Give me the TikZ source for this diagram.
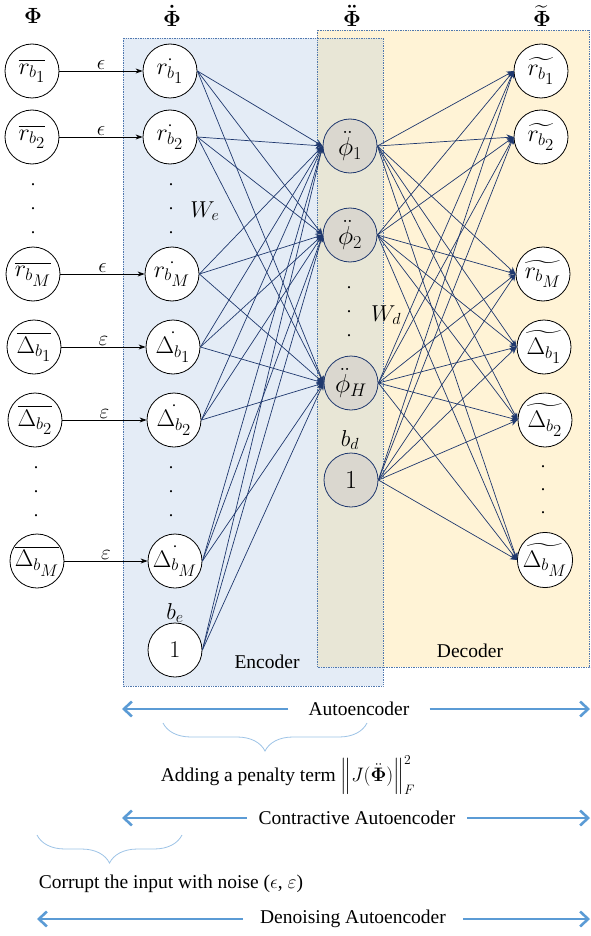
\RequirePackage{fix-cm}
\documentclass[tikz,border=0pt]{standalone}
\usepackage{amsmath,amssymb}
\usepackage{fontspec}
\setmainfont{Liberation Serif}
\usetikzlibrary{arrows.meta,decorations.pathreplacing}

\definecolor{encfill}{RGB}{228,236,246}
\definecolor{decfill}{RGB}{255,243,214}
\definecolor{ovfill}{RGB}{232,230,214}
\definecolor{navy}{RGB}{31,56,110}
\definecolor{boxline}{RGB}{80,120,175}
\definecolor{phifill}{RGB}{218,215,207}
\definecolor{abl}{RGB}{91,155,213}
\definecolor{brc}{RGB}{157,195,230}
\newcommand{\ssb}[1]{{\scriptstyle #1}}

\begin{document}
\begin{tikzpicture}[x=1pt,y=-1pt,
  neuron/.style={circle,draw=black,line width=0.8pt,fill=white,minimum size=54pt,inner sep=0pt,font=\fontsize{24}{26}\selectfont},
  hid/.style={neuron,draw=navy,fill=phifill,font=\fontsize{26}{28}\selectfont},
  conn/.style={navy,line width=0.7pt},
  conntip/.style={conn,-{Stealth[length=7pt,width=6pt]}},
  noise/.style={black,line width=0.8pt,-{Stealth[length=7pt,width=5pt]}},
  hdr/.style={font=\fontsize{22}{24}\selectfont},
  lbl/.style={font=\fontsize{23}{26}\selectfont},
  nlbl/.style={font=\fontsize{21}{24}\selectfont},
  txt/.style={font=\fontsize{19.5}{23}\selectfont},
  dotmark/.style={font=\fontsize{18}{20}\selectfont},
  region/.style={draw=boxline,densely dotted,line width=0.7pt},
  barrow/.style={abl,line width=2.6pt,-{Straight Barb[length=8pt,width=15pt,line width=2.6pt]}},
  brc/.style={draw=brc,line width=0.8pt,decorate,decoration={brace,amplitude=28pt}},
  gap/.style={txt,inner xsep=16pt,inner ysep=2pt}
]
\useasboundingbox (0,0) rectangle (590,936);

% regions
\fill[encfill] (123,38) rectangle (383,686);
\fill[decfill] (317,30) rectangle (589.5,667);
\fill[ovfill] (317,38) rectangle (383,667);
\draw[region] (123,38) rectangle (383,686);
\draw[region] (317,30) rectangle (589.5,667);
\node[txt] (enc) at (267,662) {Encoder};
\node[txt] (dec) at (470,651) {Decoder};

% headers
\node[hdr] (H1) at (33,16) {$\boldsymbol{\Phi}$};
\node[hdr] (H2) at (172,16) {$\boldsymbol{\dot{\Phi}}$};
\node[hdr] (H3) at (352,16) {$\boldsymbol{\ddot{\Phi}}$};
\node[hdr] (H4) at (542,16) {$\boldsymbol{\widetilde{\Phi}}$};

% column 1
\node[neuron] (a1) at (32,71) {$\overline{r_{b_{\ssb1}}}$};
\node[neuron] (a2) at (32,137) {$\overline{r_{b_{\ssb2}}}$};
\node[neuron] (a3) at (33,274) {$\overline{r_{b_{\ssb M}}}$};
\node[neuron] (a4) at (34,347) {$\overline{\Delta_{b_{\ssb1}}}$};
\node[neuron] (a5) at (35,420) {$\overline{\Delta_{b_{\ssb2}}}$};
\node[neuron] (a6) at (37,561) {$\overline{\Delta_{b_{\ssb M}}}$};

% column 2
\node[neuron] (b1) at (170,71) {$\dot{r_{b_{\ssb1}}}$};
\node[neuron] (b2) at (170,137) {$\dot{r_{b_{\ssb2}}}$};
\node[neuron] (b3) at (172,274) {$\dot{r_{b_{\ssb M}}}$};
\node[neuron] (b4) at (173,347) {$\dot{\Delta_{b_{\ssb1}}}$};
\node[neuron] (b5) at (174,420) {$\dot{\Delta_{b_{\ssb2}}}$};
\node[neuron] (b6) at (175,561) {$\dot{\Delta_{b_{\ssb M}}}$};
\node[neuron] (b0) at (175,650) {$1$};
\node[lbl] (be) at (175,613) {$b_e$};

% column 3
\node[hid] (h1) at (350,146) {$\ddot{\phi}_1$};
\node[hid] (h2) at (350,235) {$\ddot{\phi}_2$};
\node[hid] (h3) at (351,383) {$\ddot{\phi}_H$};
\node[hid] (hb) at (351,480) {$1$};
\node[lbl] (bd) at (350,440) {$b_d$};

% column 4
\node[neuron] (o1) at (541,71) {$\widetilde{r_{b_{\ssb1}}}$};
\node[neuron] (o2) at (541,137) {$\widetilde{r_{b_{\ssb2}}}$};
\node[neuron] (o3) at (543,274) {$\widetilde{r_{b_{\ssb M}}}$};
\node[neuron] (o4) at (544,347) {$\widetilde{\Delta_{b_{\ssb1}}}$};
\node[neuron] (o5) at (545,420) {$\widetilde{\Delta_{b_{\ssb2}}}$};
\node[neuron] (o6) at (545,560) {$\widetilde{\Delta_{b_{\ssb M}}}$};

% dots
\foreach \y [count=\i] in {185,209,233} {
  \node[dotmark] (d1\i) at (33,\y) {.};
  \node[dotmark] (d2\i) at (171,\y) {.};
}
\foreach \y [count=\i] in {468,492,516} {
  \node[dotmark] (d3\i) at (36,\y) {.};
  \node[dotmark] (d4\i) at (171,\y) {.};
}
\foreach \y [count=\i] in {467,490,513} {
  \node[dotmark] (d5\i) at (543,\y) {.};
}
\foreach \y [count=\i] in {288,312,336} {
  \node[dotmark] (d6\i) at (349,\y) {.};
}

% weight labels
\node[lbl] (we) at (205,211) {$W_e$};
\node[lbl] (wd) at (386,315) {$W_d$};

% noise arrows
\foreach \i/\e in {1/\epsilon,2/\epsilon,3/\epsilon,4/\varepsilon,5/\varepsilon,6/\varepsilon} {
  \draw[noise] (a\i.east) -- node[nlbl,above,inner sep=1pt] {$\e$} (b\i.west);
}

% encoder connections
\foreach \s in {b1,b2,b3,b4,b5,b6,b0} {
  \foreach \t in {h1,h2,h3} {
    \draw[conntip] (\s.east) -- (\t.west);
  }
}
% decoder connections
\foreach \s in {h1,h2,h3,hb} {
  \foreach \t in {o1,o2,o3,o4,o5,o6} {
    \draw[conntip] (\s.east) -- (\t.west);
  }
}

% bottom annotations
\coordinate (ae1) at (122,709);
\coordinate (ae2) at (590,709);
\node[gap,inner xsep=20pt] (aet) at (359,709) {Autoencoder};
\draw[barrow] (aet.west) -- (ae1);
\draw[barrow] (aet.east) -- (ae2);

\coordinate (br1a) at (367,723);
\coordinate (br1b) at (163,723);
\draw[brc] (br1a) -- (br1b);
\node[txt] (pen) at (288,775) {Adding a penalty term $\Bigl\|J(\ddot{\boldsymbol{\Phi}})\Bigr\|_F^2$};

\coordinate (ce1) at (122,818);
\coordinate (ce2) at (590,818);
\node[gap,inner xsep=12pt] (cet) at (357,818) {Contractive Autoencoder};
\draw[barrow] (cet.west) -- (ce1);
\draw[barrow] (cet.east) -- (ce2);

\coordinate (br2a) at (182,835);
\coordinate (br2b) at (37,835);
\draw[brc] (br2a) -- (br2b);
\node[txt] (cor) at (171,884) {Corrupt the input with noise ($\epsilon$, $\varepsilon$)};

\coordinate (de1) at (37,919);
\coordinate (de2) at (590,919);
\node[gap,inner xsep=17pt] (det) at (353,919) {Denoising Autoencoder};
\draw[barrow] (det.west) -- (de1);
\draw[barrow] (det.east) -- (de2);
\end{tikzpicture}
\end{document}
